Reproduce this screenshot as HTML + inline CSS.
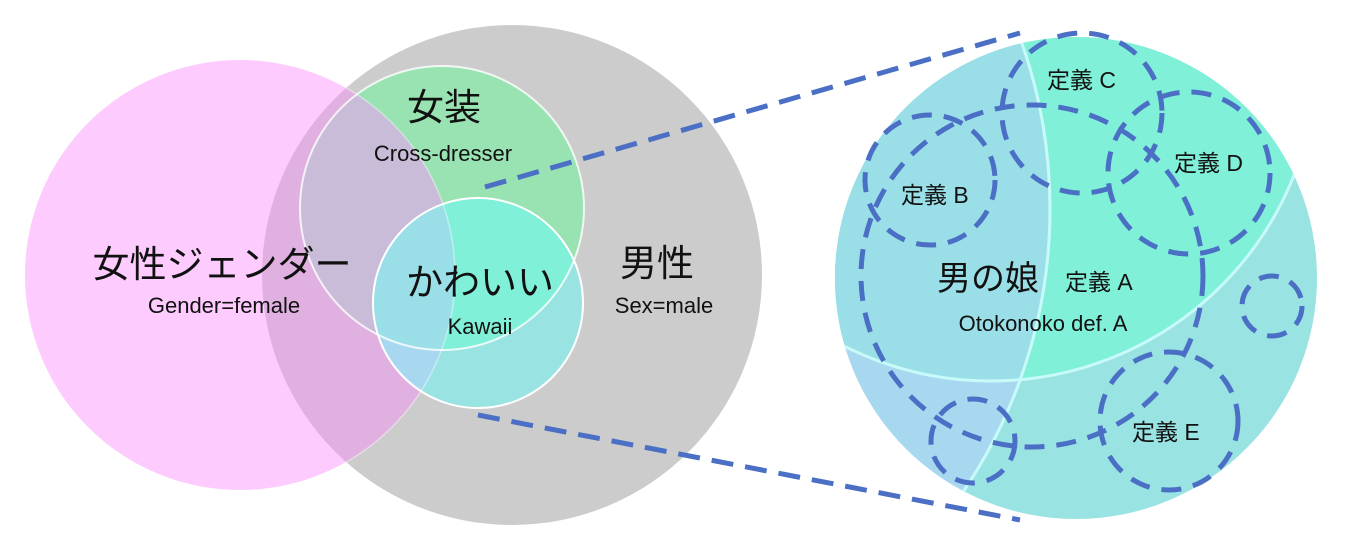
<!DOCTYPE html>
<html><head><meta charset="utf-8"><style>
html,body{margin:0;padding:0;background:#fff;width:1350px;height:549px;overflow:hidden;}
svg{display:block;}
text{font-family:"Liberation Sans","Noto Sans CJK JP",sans-serif;fill:#111;}
</style></head><body>
<svg width="1350" height="549" viewBox="0 0 1350 549" xmlns="http://www.w3.org/2000/svg">
<defs>
<clipPath id="cg"><circle cx="512" cy="275" r="250"/></clipPath>
<clipPath id="cp"><circle cx="240" cy="275" r="215"/></clipPath>
<clipPath id="cc"><circle cx="442" cy="208" r="142"/></clipPath>
<clipPath id="ck"><circle cx="478" cy="303" r="105"/></clipPath>
<clipPath id="cr"><circle cx="1076" cy="278" r="241"/></clipPath>
<clipPath id="rp"><circle cx="547" cy="209" r="503"/></clipPath>
<clipPath id="rc"><circle cx="991" cy="55" r="326"/></clipPath>
</defs>
<circle cx="512" cy="275" r="250" fill="#cccccc"/>
<circle cx="240" cy="275" r="215" fill="#fdcbfd"/>
<g clip-path="url(#cg)"><circle cx="240" cy="275" r="215" fill="#e0b0e0"/></g>
<circle cx="442" cy="208" r="142" fill="#99e3b3"/>
<g clip-path="url(#cp)"><circle cx="442" cy="208" r="142" fill="#c8bcd8"/></g>
<circle cx="478" cy="303" r="105" fill="#9ae3e3"/>
<g clip-path="url(#cc)"><circle cx="478" cy="303" r="105" fill="#80f0d8"/></g>
<g clip-path="url(#cp)"><circle cx="478" cy="303" r="105" fill="#a8d8f0"/>
<g clip-path="url(#cc)"><circle cx="478" cy="303" r="105" fill="#9adfe8"/></g></g>
<circle cx="442" cy="208" r="142" fill="none" stroke="#fff" stroke-width="2" stroke-opacity="0.8"/>
<circle cx="478" cy="303" r="105" fill="none" stroke="#fff" stroke-width="2"/>
<g clip-path="url(#cg)"><circle cx="240" cy="275" r="215" fill="none" stroke="#fff" stroke-width="1.5" stroke-opacity="0.4"/></g>

<line x1="485" y1="187" x2="1020" y2="33" stroke="#4a6fc4" stroke-width="5" stroke-dasharray="22 12"/>
<line x1="478" y1="415" x2="1020" y2="520" stroke="#4a6fc4" stroke-width="5" stroke-dasharray="22 12"/>

<g clip-path="url(#cr)">
<rect x="830" y="30" width="490" height="495" fill="#9ae3e3"/>
<circle cx="991" cy="55" r="326" fill="#80f0d8"/>
<g clip-path="url(#rp)"><rect x="830" y="30" width="490" height="495" fill="#a8d8f0"/>
<g clip-path="url(#rc)"><rect x="830" y="30" width="490" height="495" fill="#9adfe8"/></g></g>
<circle cx="991" cy="55" r="326" fill="none" stroke="#c8fafa" stroke-width="3"/>
<circle cx="547" cy="209" r="503" fill="none" stroke="#c8fafa" stroke-width="3"/>
</g>
<g fill="none" stroke="#4a6fc4" stroke-width="5" stroke-dasharray="20 12">
<circle cx="1032" cy="276" r="171"/>
<circle cx="930" cy="180" r="65"/>
<circle cx="1082" cy="113" r="80"/>
<circle cx="1189" cy="173" r="81"/>
<circle cx="1169" cy="421" r="69"/>
<circle cx="1272" cy="306" r="30"/>
<circle cx="973" cy="441" r="42"/>
</g>

<text x="222" y="277" font-size="37" text-anchor="middle">女性ジェンダー</text>
<text x="224" y="313" font-size="22" text-anchor="middle">Gender=female</text>
<text x="444" y="120" font-size="37" text-anchor="middle">女装</text>
<text x="443" y="161" font-size="22" text-anchor="middle">Cross-dresser</text>
<text x="480" y="295" font-size="37" text-anchor="middle">かわいい</text>
<text x="480" y="334" font-size="22" text-anchor="middle">Kawaii</text>
<text x="657" y="276" font-size="37" text-anchor="middle">男性</text>
<text x="664" y="313" font-size="22" text-anchor="middle">Sex=male</text>

<text x="1047" y="88" font-size="23">定義 C</text>
<text x="901" y="203" font-size="23">定義 B</text>
<text x="1174" y="171" font-size="23">定義 D</text>
<text x="937" y="290" font-size="34">男の娘</text>
<text x="1065" y="290" font-size="23">定義 A</text>
<text x="1043" y="331" font-size="22" text-anchor="middle">Otokonoko def. A</text>
<text x="1132" y="440" font-size="23">定義 E</text>
</svg>
</body></html>
